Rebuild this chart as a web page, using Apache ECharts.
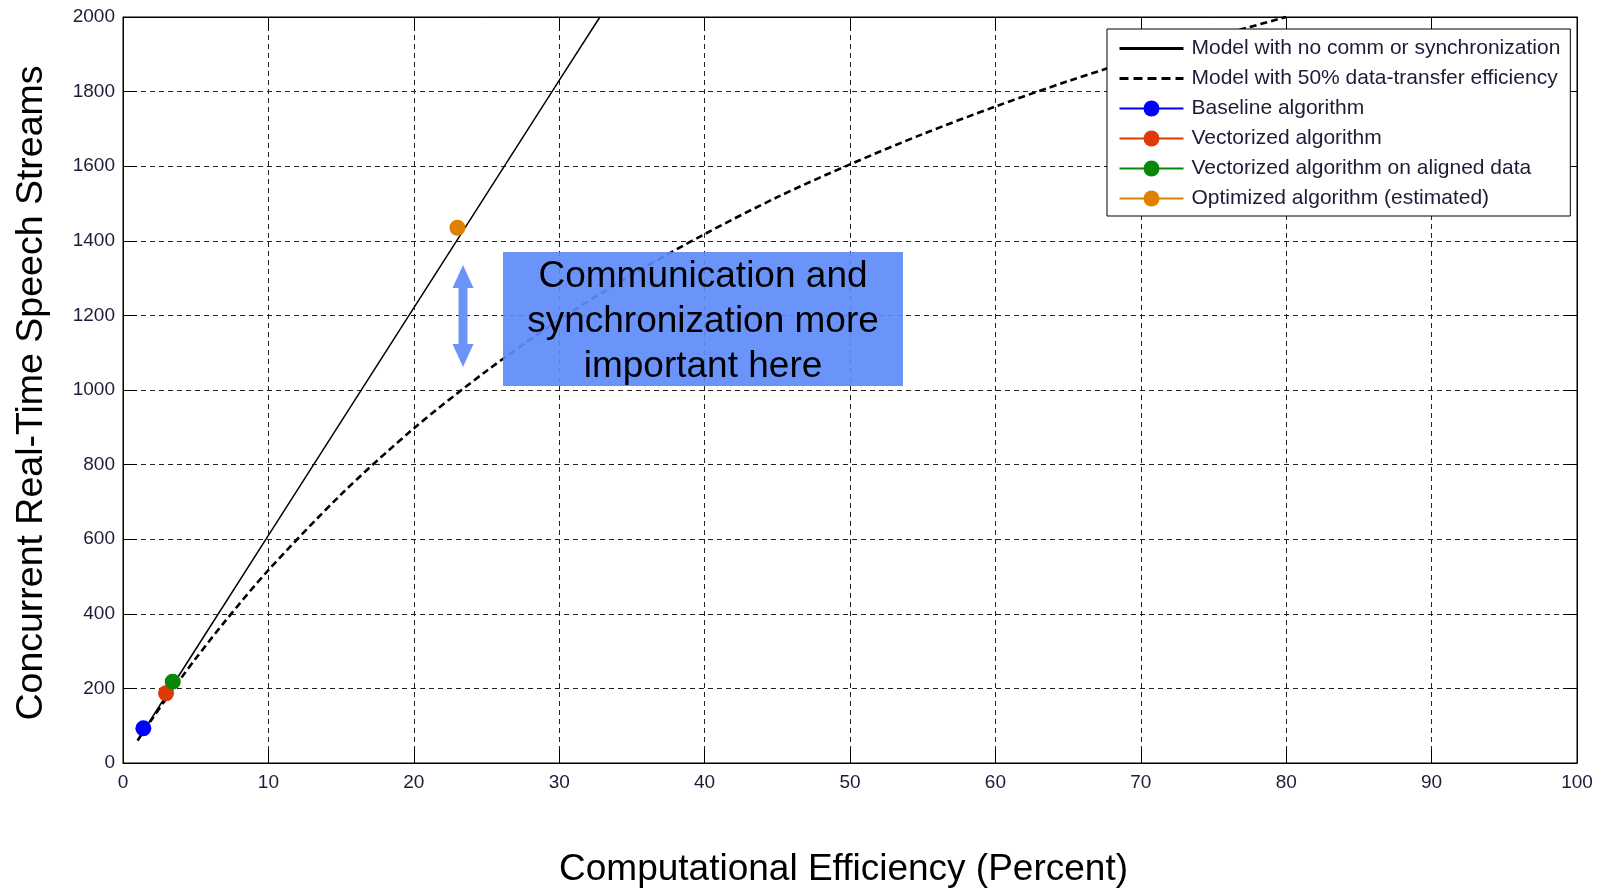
<!DOCTYPE html>
<html>
<head>
<meta charset="utf-8">
<script src="https://cdn.jsdelivr.net/npm/echarts@6/dist/echarts.min.js"></script>
<style>
  html, body { margin: 0; padding: 0; background: #fff; }
  #chart { width: 1606px; height: 889px; }
</style>
</head>
<body>
<div id="chart"></div>
<script>
// Model curves: concurrent streams vs. computational efficiency (%)
const noCommX = [1, 5, 10, 15, 20, 25, 30, 32.8];
const noCommY = [61, 305, 610, 915, 1220, 1525, 1830, 2000];

const halfXferX = [1, 2, 3, 4, 5, 7, 10, 15, 20, 25, 30, 35, 40, 45, 50, 55, 60, 65, 70, 75, 80];
const halfXferY = [60, 118, 174, 228, 280, 379, 517, 720, 897, 1051, 1188, 1309, 1418, 1517, 1605, 1686, 1760, 1828, 1890, 1946, 2000];

// Measured / estimated algorithm results [efficiency %, streams]
const baselinePt = [1.4, 93];
const vectorizedPt = [2.96, 187];
const alignedPt = [3.42, 218];
const optimizedPt = [23.0, 1435];

const seriesNames = [
  'Model with no comm or synchronization',
  'Model with 50% data-transfer efficiency',
  'Baseline algorithm',
  'Vectorized algorithm',
  'Vectorized algorithm on aligned data',
  'Optimized algorithm (estimated)'
];
const pointColors = ['#0000ff', '#dc3a08', '#0a860a', '#e08000'];

const xTicks = { min: 0, max: 100, interval: 10 };
const yTicks = { min: 0, max: 2000, interval: 200 };

const FONT = '"Liberation Sans", Arial, sans-serif';
const TXT = '#1c1c38';

const zip = (xs, ys) => xs.map((x, i) => [x, ys[i]]);

const chart = echarts.init(document.getElementById('chart'), null, { renderer: 'canvas' });

const gridDash = { type: [5, 4], color: '#222', width: 1 };
const plainNum = v => String(v);
const boxLine = { show: true, onZero: false, lineStyle: { color: '#000', width: 1 } };
const inTick = { show: true, inside: true, length: 14, lineStyle: { color: '#000' } };

function pointSeries(name, pt, color) {
  return {
    name: name,
    type: 'line',
    data: [pt],
    symbol: 'circle',
    symbolSize: 16,
    itemStyle: { color: color },
    lineStyle: { color: color, width: 1.5 },
    z: 5
  };
}

const option = {
  animation: false,
  backgroundColor: '#fff',
  textStyle: { fontFamily: FONT },
  grid: {
    left: 123, right: 29, top: 17, bottom: 126,
    outerBoundsMode: 'none', containLabel: false,
    show: true, borderColor: '#000', borderWidth: 1, backgroundColor: 'transparent'
  },
  xAxis: [{
    type: 'value', min: xTicks.min, max: xTicks.max, interval: xTicks.interval,
    name: 'Computational Efficiency (Percent)',
    nameLocation: 'middle', nameGap: 88,
    nameTextStyle: { fontSize: 37, color: '#000', fontFamily: FONT, padding: [0, 13, 0, 0] },
    axisLine: boxLine,
    axisTick: inTick,
    axisLabel: { fontSize: 19, color: TXT, margin: 10, fontFamily: FONT, formatter: plainNum },
    splitLine: { show: true, lineStyle: gridDash }
  }, {
    type: 'value', position: 'top', min: xTicks.min, max: xTicks.max, interval: xTicks.interval,
    axisLine: boxLine,
    axisTick: inTick,
    axisLabel: { show: false },
    splitLine: { show: false }
  }],
  yAxis: [{
    type: 'value', min: yTicks.min, max: yTicks.max, interval: yTicks.interval,
    name: 'Concurrent Real-Time Speech Streams',
    nameLocation: 'middle', nameGap: 72,
    nameTextStyle: { fontSize: 37.5, color: '#000', fontFamily: FONT, padding: [0, 6, 0, 0] },
    axisLine: boxLine,
    axisTick: inTick,
    axisLabel: { fontSize: 19, color: TXT, margin: 8, fontFamily: FONT, formatter: plainNum },
    splitLine: { show: true, lineStyle: gridDash }
  }, {
    type: 'value', position: 'right', min: yTicks.min, max: yTicks.max, interval: yTicks.interval,
    axisLine: boxLine,
    axisTick: inTick,
    axisLabel: { show: false },
    splitLine: { show: false }
  }],
  legend: {
    orient: 'vertical',
    left: 1107, top: 29,
    padding: [9, 10, 7, 11],
    itemWidth: 64, itemHeight: 20, itemGap: 9,
    backgroundColor: '#fff',
    borderColor: '#000', borderWidth: 1, borderRadius: 0,
    textStyle: { fontSize: 21, color: TXT, fontFamily: FONT, padding: [0, 0, 0, 3] },
    data: [
      { name: seriesNames[0], itemStyle: { opacity: 0 }, lineStyle: { width: 3, color: '#000', type: 'solid' } },
      { name: seriesNames[1], itemStyle: { opacity: 0 }, lineStyle: { width: 3, color: '#000', type: [9, 5] } },
      { name: seriesNames[2] },
      { name: seriesNames[3] },
      { name: seriesNames[4] },
      { name: seriesNames[5] }
    ],
    z: 20
  },
  series: [
    {
      name: seriesNames[0], type: 'line', data: zip(noCommX, noCommY),
      symbol: 'none', clip: true,
      lineStyle: { color: '#000', width: 1.5 }, itemStyle: { color: '#000' }, z: 3
    },
    {
      name: seriesNames[1], type: 'line', data: zip(halfXferX, halfXferY),
      symbol: 'none', smooth: 0.3, clip: true,
      lineStyle: { color: '#000', width: 2.6, type: [7, 4] }, itemStyle: { color: '#000' }, z: 3
    },
    pointSeries(seriesNames[2], baselinePt, pointColors[0]),
    pointSeries(seriesNames[3], vectorizedPt, pointColors[1]),
    pointSeries(seriesNames[4], alignedPt, pointColors[2]),
    pointSeries(seriesNames[5], optimizedPt, pointColors[3])
  ],
  graphic: [
    {
      type: 'polygon', z: 30,
      shape: {
        points: [
          [463, 265], [473.5, 288], [467.5, 288], [467.5, 344], [473.5, 344],
          [463, 367], [452.5, 344], [458.5, 344], [458.5, 288], [452.5, 288]
        ]
      },
      style: { fill: '#6b94f8' }
    },
    {
      type: 'rect', z: 30,
      shape: { x: 503, y: 252, width: 400, height: 134 },
      style: { fill: 'rgba(94,139,250,0.92)' }
    },
    {
      type: 'text', z: 31,
      x: 703, y: 322,
      style: {
        text: 'Communication and\nsynchronization more\nimportant here',
        font: '37px ' + FONT,
        fill: '#000',
        align: 'center',
        verticalAlign: 'middle',
        lineHeight: 45
      }
    }
  ]
};

chart.setOption(option);
</script>
</body>
</html>
